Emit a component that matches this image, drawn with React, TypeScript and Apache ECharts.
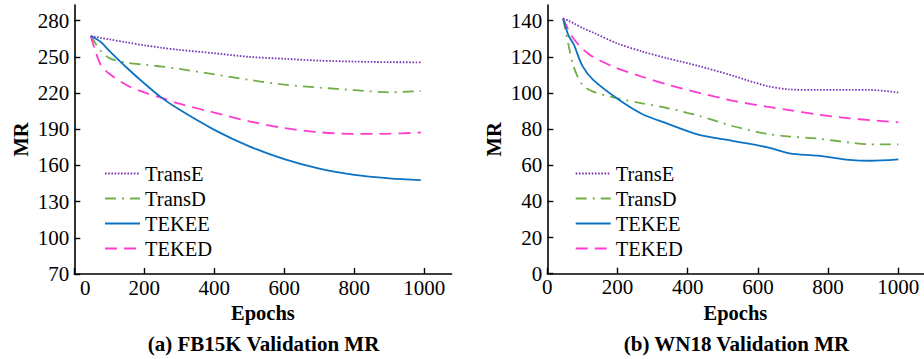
import React, { useEffect, useRef } from "react";
import * as echarts from "echarts";

const seriesNames = ["TransE", "TransD", "TEKEE", "TEKED"];

// (a) FB15K
const fbEpochs = [47, 75, 100, 150, 200, 250, 300, 400, 500, 600, 700, 800, 900, 990];
const fbTransE = [267.3, 265.8, 264.5, 262, 259.6, 257.5, 255.8, 253, 250, 248.4, 246.9, 246.1, 245.6, 245.5];
const fbTransD = [267.3, 255.2, 249, 245.2, 243.5, 242, 240, 235.5, 230.9, 227, 224.5, 222.5, 220.6, 221.7];
const fbTEKEE = [267.3, 262.5, 255, 241, 228, 216, 206.3, 189.5, 175.8, 165.2, 157.3, 152.2, 149.3, 147.8];
const fbTEKED = [267.3, 243.5, 236, 226.5, 220.5, 216, 211.2, 203.8, 196.6, 191, 187.5, 186.2, 186.3, 187.3];

// (b) WN18
const wnEpochs = [45, 60, 75, 100, 130, 200, 270, 340, 430, 530, 625, 690, 770, 860, 920, 1000];
const wnTransE = [141.3, 140, 138.6, 136, 133.5, 127.4, 123, 119.3, 115, 109.5, 103.9, 102, 101.7, 101.7, 101.7, 100.3];
const wnTransD = [141.3, 127, 114.5, 104.5, 100.8, 97, 94.3, 91.7, 87.5, 81.6, 77.4, 75.9, 74.8, 72.6, 71.6, 71.6];
const wnTEKEE = [141.3, 132, 127, 115, 107.4, 96.8, 88.4, 83.2, 77, 73.4, 70, 66.6, 65.3, 63, 62.5, 63.3];
const wnTEKED = [141.3, 135, 130, 124.5, 120, 113.6, 109, 104.8, 100.2, 95.7, 92.4, 90.5, 88.1, 86, 85, 83.8];

const xTicks = [0, 200, 400, 600, 800, 1000];
const fbYTicks = [70, 100, 130, 160, 190, 220, 250, 280];
const wnYTicks = [0, 20, 40, 60, 80, 100, 120, 140];
const captions = ["(a) FB15K Validation MR", "(b) WN18 Validation MR"];

const FONT = "Liberation Serif, Times New Roman, serif";
const colors = ["#7A35B8", "#72AE48", "#0B72C4", "#FF3ACF"];
const dashes: any[] = [[1.6, 1.6], [11, 6, 2, 6], "solid", [12, 7]];

export default function App() {
  const ref = useRef<HTMLDivElement>(null);
  useEffect(() => {
    document.body.style.margin = "0";
    const chart = echarts.init(ref.current!, null, { renderer: "svg" });
    const pair = (xs: number[], ys: number[]) => xs.map((x, i) => [x, ys[i]]);
    const fbData = [fbTransE, fbTransD, fbTEKEE, fbTEKED];
    const wnData = [wnTransE, wnTransD, wnTEKEE, wnTEKED];

    const axisLine = { lineStyle: { color: "#000", width: 1.6 } };
    const axisTick = (vals: number[]) => ({
      inside: true,
      length: 6,
      customValues: vals,
      lineStyle: { color: "#000", width: 1.4 },
    });
    const labelBase = { color: "#000", fontFamily: FONT, fontSize: 21 };
    const nameStyle = { color: "#000", fontFamily: FONT, fontSize: 20.5, fontWeight: "bold" };

    const mkX = (idx: number, max: number) => ({
      type: "value",
      gridIndex: idx,
      min: 0,
      max,
      name: "Epochs",
      nameLocation: "middle",
      nameGap: 28,
      nameTextStyle: nameStyle,
      axisLine,
      axisTick: axisTick(xTicks),
      splitLine: { show: false },
      axisLabel: {
        ...labelBase,
        margin: 3,
        customValues: xTicks,
        formatter: (v: number) => (idx === 0 && v === 0 ? "{z|0}" : String(v)),
        rich: { z: { ...labelBase, padding: [0, 0, 0, 22] } },
      },
    });
    const mkY = (idx: number, min: number, max: number, ticks: number[]) => ({
      type: "value",
      gridIndex: idx,
      min,
      max,
      name: "MR",
      nameLocation: "middle",
      nameGap: 43,
      nameTextStyle: nameStyle,
      axisLine: { show: true, ...axisLine },
      axisTick: axisTick(ticks),
      splitLine: { show: false },
      axisLabel: { ...labelBase, margin: 5, customValues: ticks },
    });

    const series: any[] = [];
    [fbData, wnData].forEach((set, gi) => {
      const xs = gi === 0 ? fbEpochs : wnEpochs;
      set.forEach((ys, si) => {
        series.push({
          type: "line",
          name: seriesNames[si],
          xAxisIndex: gi,
          yAxisIndex: gi,
          data: pair(xs, ys),
          symbol: "none",
          smooth: 0.3,
          z: si === 2 ? 3 : 2,
          lineStyle: { color: colors[si], width: 1.8, type: dashes[si] },
          itemStyle: { color: colors[si] },
        });
      });
    });

    const mkLegend = (left: number) => ({
      orient: "vertical",
      left,
      top: 163,
      padding: 0,
      itemWidth: 35,
      itemHeight: 14,
      itemGap: 4,
      data: seriesNames,
      itemStyle: { opacity: 0 },
      textStyle: { color: "#000", fontFamily: FONT, fontSize: 20.5, lineHeight: 21 },
    });

    chart.setOption({
      animation: false,
      backgroundColor: "#fff",
      grid: [
        { left: 74.3, top: 5, width: 377.3, height: 269 },
        { left: 547.3, top: 5, width: 376.3, height: 268.7 },
      ],
      xAxis: [mkX(0, 1078), mkX(1, 1072)],
      yAxis: [mkY(0, 70, 293, fbYTicks), mkY(1, 0, 148.7, wnYTicks)],
      legend: [mkLegend(104), mkLegend(574.7)],
      series,
      graphic: [
        {
          type: "text",
          x: 263.5,
          y: 344,
          style: {
            text: captions[0],
            textAlign: "center",
            textVerticalAlign: "middle",
            font: `bold 21px ${FONT}`,
            fill: "#000",
          },
        },
        {
          type: "text",
          x: 736.5,
          y: 344,
          style: {
            text: captions[1],
            textAlign: "center",
            textVerticalAlign: "middle",
            font: `bold 21px ${FONT}`,
            fill: "#000",
          },
        },
      ],
    });
    return () => chart.dispose();
  }, []);
  return <div ref={ref} style={{ width: 924, height: 359 }} />;
}
